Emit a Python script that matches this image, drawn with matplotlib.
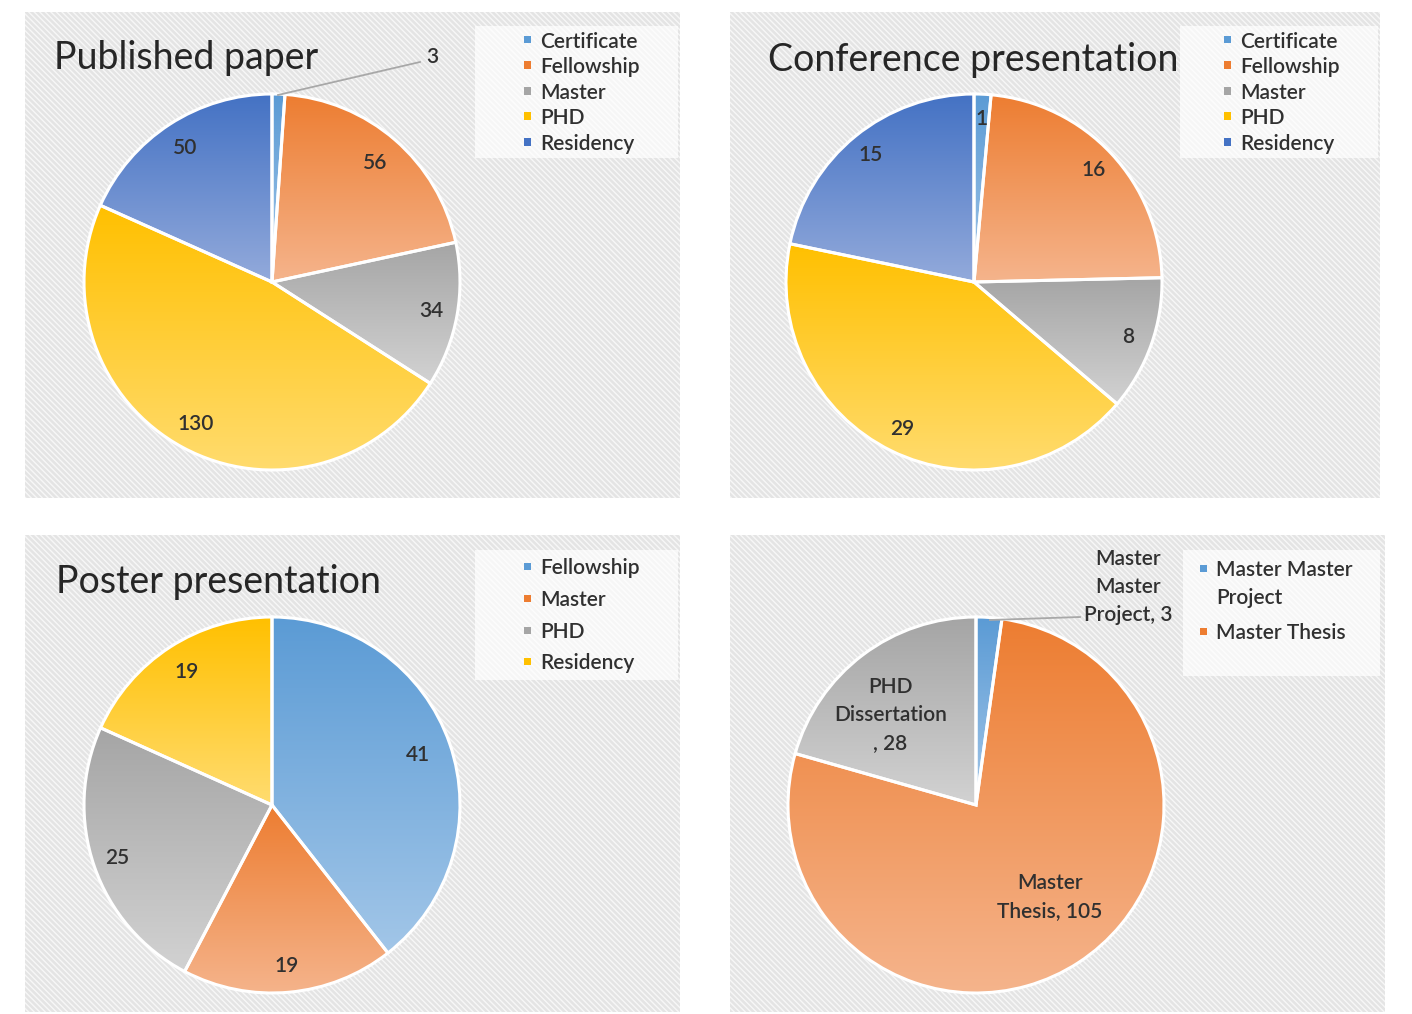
import numpy as np
import matplotlib.pyplot as plt
from matplotlib.colors import LinearSegmentedColormap, to_rgb
from matplotlib.patches import Rectangle

plt.rcParams['font.family'] = ['Lato', 'DejaVu Sans']
plt.rcParams['hatch.linewidth'] = 1.0

W, H = 1412, 1014

# chart data
paper_labels = ["Certificate", "Fellowship", "Master", "PHD", "Residency"]
paper_values = [3, 56, 34, 130, 50]

conf_labels = ["Certificate", "Fellowship", "Master", "PHD", "Residency"]
conf_values = [1, 16, 8, 29, 15]

poster_labels = ["Fellowship", "Master", "PHD", "Residency"]
poster_values = [41, 19, 25, 19]

thesis_labels = ["Master Master Project", "Master Thesis", "PHD Dissertation"]
thesis_values = [3, 105, 28]

# office palette: (top, bottom) of each slice gradient
palette = [("#5B9BD5", "#A2C6E8"),
           ("#ED7D31", "#F5B48C"),
           ("#A5A5A5", "#D2D2D2"),
           ("#FFC000", "#FFDC70"),
           ("#4472C4", "#93AADB")]
text_color = "#303030"
FS = 15
LS = 1.5


def fig_rect(x0, y0, x1, y1):
    return [x0 / W, 1 - y1 / H, (x1 - x0) / W, (y1 - y0) / H]


def px(x, y):
    return x / W, 1 - y / H


fig = plt.figure(figsize=(W / 100, H / 100), dpi=100)


def panel(box, title, title_xy, center, radius, values, label_texts,
          label_dist, legend_box, marker_x, legend_labels, legend_rows,
          nudges=None, outside=None):
    bg = fig.add_axes(fig_rect(*box))
    bg.set_xlim(0, 1)
    bg.set_ylim(0, 1)
    bg.axis("off")
    bg.add_patch(Rectangle((0, 0), 1, 1, facecolor="#e4e4e4", edgecolor="none"))
    bg.add_patch(Rectangle((0, 0), 1, 1, facecolor="none", edgecolor="#f7f7f7",
                           hatch="\\" * 6, linewidth=0))

    # legend backdrop
    lx0, ly0, lx1, ly1 = legend_box
    fig.add_artist(Rectangle(px(lx0, ly1), (lx1 - lx0) / W, (ly1 - ly0) / H,
                             transform=fig.transFigure, facecolor="white",
                             alpha=0.7, edgecolor="none"))

    if title:
        fig.text(*px(*title_xy), title, fontsize=27, color="#262626",
                 va="center", ha="left")

    cx, cy = center
    ax = fig.add_axes(fig_rect(cx - radius, cy - radius, cx + radius, cy + radius))
    wedges, _ = ax.pie(values, startangle=90, counterclock=False, radius=1,
                       wedgeprops=dict(edgecolor="white", linewidth=2.2))
    ax.set_aspect("equal")
    ax.axis("off")

    # vertical gradient inside every slice
    for i, w in enumerate(wedges):
        top, bottom = palette[i % len(palette)]
        w.set_facecolor("none")
        verts = w.get_path().vertices
        ymin, ymax = verts[:, 1].min(), verts[:, 1].max()
        cmap = LinearSegmentedColormap.from_list("g", [to_rgb(bottom), to_rgb(top)])
        grad = np.linspace(0, 1, 256).reshape(-1, 1)
        im = ax.imshow(grad, cmap=cmap, origin="lower", aspect="auto",
                       extent=(-1, 1, ymin, ymax), zorder=1, interpolation="bilinear")
        im.set_clip_path(w)
        w.set_zorder(2)

    ax.set_xlim(-1, 1)
    ax.set_ylim(-1, 1)

    total = sum(values)
    start = 90.0
    for i, v in enumerate(values):
        span = 360.0 * v / total
        mid = np.deg2rad(start - span / 2)
        start -= span
        txt = label_texts[i]
        if txt is None:
            continue
        d = label_dist[i] if isinstance(label_dist, list) else label_dist
        dx, dy = nudges[i] if nudges else (0, 0)
        ax.text(d * np.cos(mid) + dx / radius, d * np.sin(mid) - dy / radius, txt,
                ha="center", va="center", fontsize=FS, color=text_color,
                fontweight="semibold", linespacing=LS, zorder=5)

    if outside is not None:
        (sx, sy), (ex, ey), (tx, ty), txt = outside
        fig.add_artist(plt.Line2D([sx / W, ex / W], [1 - sy / H, 1 - ey / H],
                                  transform=fig.transFigure, color="#a8a8a8",
                                  linewidth=1.3, zorder=6))
        fig.text(*px(tx, ty), txt, ha="center", va="center", fontsize=FS,
                 color=text_color, fontweight="semibold", linespacing=LS)

    # legend entries
    for i, (lab, ly) in enumerate(zip(legend_labels, legend_rows)):
        mx, my = px(marker_x, ly)
        fig.add_artist(Rectangle((mx - 3.5 / W, my - 3.5 / H), 7 / W, 7 / H,
                                 transform=fig.transFigure,
                                 facecolor=palette[i % len(palette)][0],
                                 edgecolor="none"))
        fig.text(*px(marker_x + 13, ly - 8), lab, ha="left", va="top",
                 fontsize=FS, color=text_color, fontweight="semibold",
                 linespacing=LS)


panel((25, 12, 680, 498), "Published paper", (54, 58), (272, 282), 188,
      paper_values, [None, "56", "34", "130", "50"], [0, 0.84, 0.86, 0.86, 0.85],
      (475, 26, 678, 158), 527, paper_labels, [40, 65, 91, 116, 142],
      outside=((278, 95), (420, 62), (432, 57), "3"))

panel((730, 12, 1380, 498), "Conference presentation", (768, 60), (974, 282), 188,
      conf_values, ["1", "16", "8", "29", "15"], 0.87,
      (1180, 26, 1378, 158), 1227, conf_labels, [40, 65, 91, 116, 142])

panel((25, 535, 680, 1012), "Poster presentation", (56, 582), (272, 805), 188,
      poster_values, ["41", "19", "25", "19"], [0.82, 0.86, 0.87, 0.84],
      (475, 550, 678, 680), 527, poster_labels, [566, 598, 630, 661])

panel((730, 535, 1385, 1012), None, None, (976, 805), 188,
      thesis_values, [None, "Master\nThesis, 105", "PHD\nDissertation\n, 28"],
      [0, 0.63, 0.66],
      (1183, 550, 1380, 676), 1203, ["Master Master\nProject", "Master Thesis"],
      [568, 631], nudges=[(0, 0), (9, -7), (-11, 9)],
      outside=((990, 620), (1080, 617), (1128, 587), "Master\nMaster\nProject, 3"))

fig.savefig("out.png", dpi=100)
